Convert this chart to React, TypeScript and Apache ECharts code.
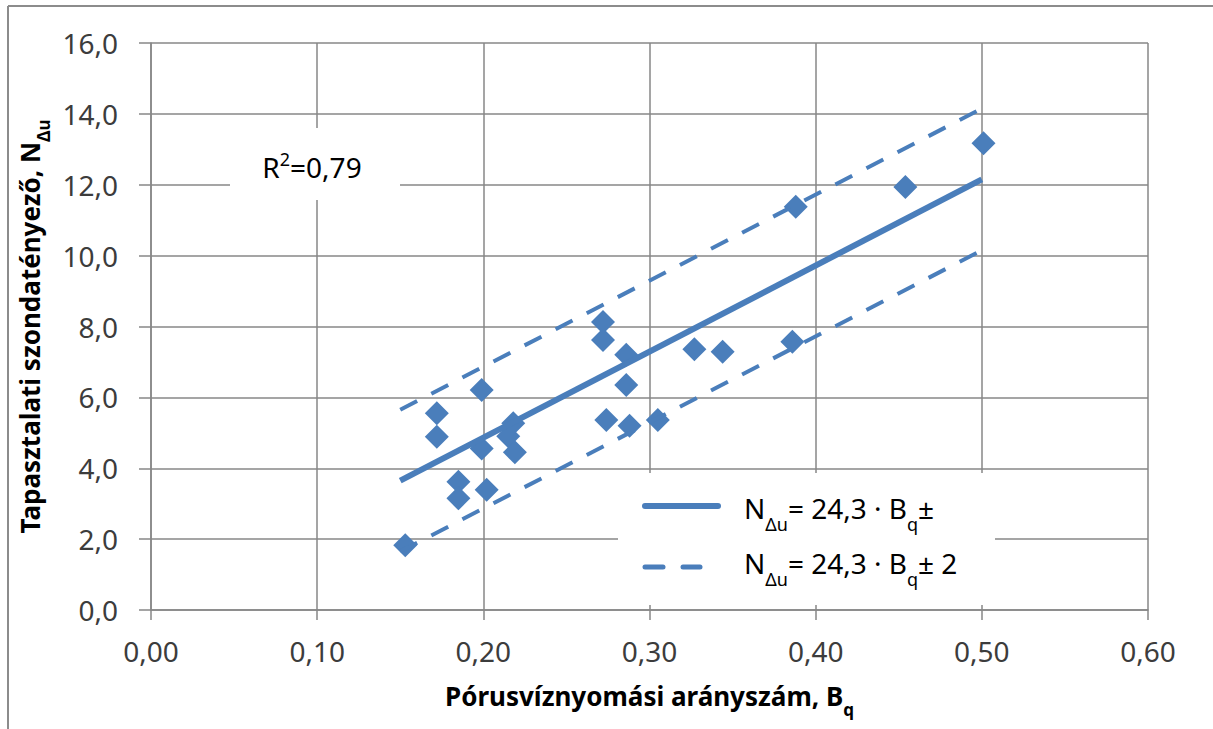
import React, { useEffect, useRef } from "react";
import * as echarts from "echarts";

// Measured data points: pore pressure ratio Bq vs. empirical cone factor NΔu
const bq = [0.153, 0.172, 0.172, 0.185, 0.185, 0.199, 0.199, 0.202, 0.215, 0.218, 0.219, 0.272, 0.272, 0.286, 0.286, 0.274, 0.288, 0.305, 0.327, 0.344, 0.386, 0.388, 0.454, 0.501];
const ndu = [1.83, 5.55, 4.89, 3.62, 3.15, 6.21, 4.56, 3.39, 4.9, 5.27, 4.45, 8.13, 7.62, 7.2, 6.35, 5.36, 5.2, 5.36, 7.36, 7.29, 7.57, 11.38, 11.94, 13.17];

// Fit line (NΔu = 24,3·Bq) and ±2 band, read at the line ends
const fitX = [0.15, 0.5];
const fitY = [3.65, 12.15];
const upperY = [5.65, 14.15];
const lowerY = [1.65, 10.15];

const xTickLabels = ["0,00", "0,10", "0,20", "0,30", "0,40", "0,50", "0,60"];
const yTickLabels = ["0,0", "2,0", "4,0", "6,0", "8,0", "10,0", "12,0", "14,0", "16,0"];

const FONT = "'Noto Sans', sans-serif";
const BLUE = "#4a7ebb";
const GRID = "#878787";

export default function App() {
  const ref = useRef<HTMLDivElement>(null);
  useEffect(() => {
    document.body.style.margin = "0";
    const chart = echarts.init(ref.current!, null, { renderer: "svg" });
    const pts = bq.map((x, i) => [x, ndu[i]]);
    const fit = fitX.map((x, i) => [x, fitY[i]]);
    const up = fitX.map((x, i) => [x, upperY[i]]);
    const lo = fitX.map((x, i) => [x, lowerY[i]]);
    const legendRich = {
      n: { fontFamily: FONT, fontSize: 28, color: "#000", lineHeight: 36 },
      s: { fontFamily: FONT, fontSize: 18, color: "#000", lineHeight: 18, verticalAlign: "bottom" as const, padding: [0, 0, -7, 0] },
    };
    const titleRich = {
      b: { fontFamily: FONT, fontSize: 26, fontWeight: "bold" as const, color: "#000", lineHeight: 32 },
      s: { fontFamily: FONT, fontSize: 17, fontWeight: "bold" as const, color: "#000", lineHeight: 17, verticalAlign: "bottom" as const, padding: [0, 0, -6, 0] },
    };
    chart.setOption({
      animation: false,
      backgroundColor: "#fff",
      grid: { left: 151, top: 43, right: 65, bottom: 119, containLabel: false },
      xAxis: {
        type: "value",
        min: 0,
        max: 0.6,
        interval: 0.1,
        axisLine: { show: true, lineStyle: { color: GRID, width: 1.5 } },
        axisTick: { show: true, length: 10, lineStyle: { color: GRID, width: 1.5 } },
        splitLine: { show: true, lineStyle: { color: GRID, width: 1.5 } },
        axisLabel: {
          fontFamily: FONT,
          fontSize: 28,
          color: "#3c3c3c",
          margin: 27,
          formatter: (v: number) => xTickLabels[Math.round(v * 10)] ?? "",
        },
        name: "{b|Pórusvíznyomási arányszám, B}{s|q}",
        nameLocation: "middle",
        nameGap: 70,
        nameTextStyle: { rich: titleRich },
      },
      yAxis: {
        type: "value",
        min: 0,
        max: 16,
        interval: 2,
        axisLine: { show: true, lineStyle: { color: GRID, width: 1.5 } },
        axisTick: { show: true, length: 12, lineStyle: { color: GRID, width: 1.5 } },
        splitLine: { show: true, lineStyle: { color: GRID, width: 1.5 } },
        axisLabel: {
          fontFamily: FONT,
          fontSize: 28,
          color: "#3c3c3c",
          margin: 33,
          formatter: (v: number) => yTickLabels[Math.round(v / 2)] ?? "",
        },
        name: "{b|Tapasztalati szondatényező, N}{s|Δu}",
        nameLocation: "middle",
        nameGap: 100,
        nameRotate: 90,
        nameTextStyle: { rich: titleRich },
      },
      series: [
        {
          type: "scatter",
          data: pts,
          symbol: "diamond",
          symbolSize: 24,
          itemStyle: { color: BLUE, opacity: 1 },
          z: 3,
        },
        {
          type: "line",
          data: fit,
          showSymbol: false,
          lineStyle: { color: BLUE, width: 6 },
          z: 4,
        },
        {
          type: "line",
          data: up,
          showSymbol: false,
          lineStyle: { color: BLUE, width: 4, type: [19, 16] },
          z: 4,
        },
        {
          type: "line",
          data: lo,
          showSymbol: false,
          lineStyle: { color: BLUE, width: 4, type: [19, 16] },
          z: 4,
        },
      ],
      graphic: [
        // outer frame (top and left edges)
        { type: "line", shape: { x1: 8, y1: 6, x2: 1213, y2: 6 }, style: { stroke: "#8c8c8c", lineWidth: 2 }, z: 10 },
        { type: "line", shape: { x1: 8, y1: 6, x2: 8, y2: 729 }, style: { stroke: "#8c8c8c", lineWidth: 2 }, z: 10 },
        // R² label
        { type: "rect", shape: { x: 230, y: 128, width: 170, height: 72 }, style: { fill: "#fff" }, z: 10 },
        {
          type: "text",
          x: 312,
          y: 167,
          z: 11,
          style: {
            text: "{n|R}{p|2}{n|=0,79}",
            align: "center",
            verticalAlign: "middle",
            rich: {
              n: { fontFamily: FONT, fontSize: 28, color: "#3c3c3c", lineHeight: 34 },
              p: { fontFamily: FONT, fontSize: 18, color: "#3c3c3c", lineHeight: 18, verticalAlign: "top", padding: [0, 0, 6, 0] },
            },
          },
        },
        // legend box
        { type: "rect", shape: { x: 618, y: 473, width: 377, height: 132 }, style: { fill: "#fff" }, z: 10 },
        { type: "line", shape: { x1: 645, y1: 506, x2: 718, y2: 506 }, style: { stroke: BLUE, lineWidth: 6, lineCap: "round" }, z: 11 },
        { type: "line", shape: { x1: 645, y1: 567, x2: 663, y2: 567 }, style: { stroke: BLUE, lineWidth: 5, lineCap: "round" }, z: 11 },
        { type: "line", shape: { x1: 683, y1: 567, x2: 700, y2: 567 }, style: { stroke: BLUE, lineWidth: 5, lineCap: "round" }, z: 11 },
        {
          type: "text",
          x: 744,
          y: 508,
          z: 11,
          style: { text: "{n|N}{s|Δu}{n|= 24,3 · B}{s|q}{n|±}", verticalAlign: "middle", rich: legendRich },
        },
        {
          type: "text",
          x: 744,
          y: 563,
          z: 11,
          style: { text: "{n|N}{s|Δu}{n|= 24,3 · B}{s|q}{n|± 2}", verticalAlign: "middle", rich: legendRich },
        },
      ],
    });
    return () => chart.dispose();
  }, []);
  return <div ref={ref} style={{ width: 1213, height: 729 }} />;
}
